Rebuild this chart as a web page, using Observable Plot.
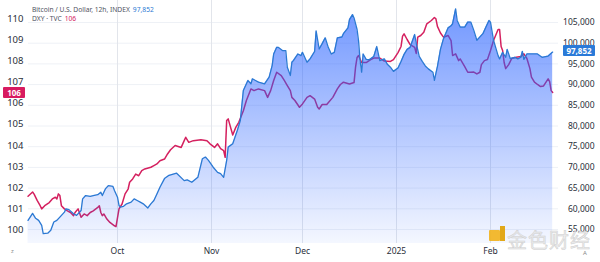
<!DOCTYPE html>
<html><head><meta charset="utf-8">
<script src="https://cdn.jsdelivr.net/npm/d3@7"></script>
<script src="https://cdn.jsdelivr.net/npm/@observablehq/plot@0.6"></script>
<style>
body{margin:0;background:#fff;font-family:"Noto Sans",Roboto,sans-serif;}
#wrap{position:relative;width:600px;height:262px;overflow:hidden;}
#wrap svg{position:absolute;left:0;top:0;}
.legend{position:absolute;left:32px;top:6px;font-size:6.7px;line-height:8.5px;color:#50535e;white-space:nowrap;}
.legend .b{color:#2b79d3;margin-left:3px}
.legend .r{color:#d4205f;margin-left:3px}
.tag{position:absolute;color:#fff;font-weight:bold;font-size:8px;line-height:11px;height:11px;text-align:center;border-radius:1px}
.wm{position:absolute;left:507px;top:225px;font-family:"Noto Sans CJK SC",sans-serif;font-size:20px;color:rgba(232,232,232,0.8);-webkit-text-stroke:0.5px #cfcfcf;letter-spacing:1px}
.logo1{position:absolute;left:489px;top:230px;width:11px;height:11px;background:#f2b31c;border-radius:1px;opacity:0.9}
.logo2{position:absolute;left:500px;top:226px;width:5px;height:15px;background:#e0a000;opacity:0.9}
.mini{position:absolute;font-size:6px;color:#888}
</style></head><body>
<div id="wrap"></div>
<script>
// ---- data ----
const btcDates = ["2024-09-01T12","2024-09-03T00","2024-09-04T00","2024-09-05T00","2024-09-06T00","2024-09-06T12","2024-09-08T00","2024-09-09T00","2024-09-10T00","2024-09-11T00","2024-09-12T00","2024-09-13T12","2024-09-14T00","2024-09-15T00","2024-09-16T12","2024-09-17T12","2024-09-19T00","2024-09-19T12","2024-09-20T12","2024-09-22T00","2024-09-23T00","2024-09-24T12","2024-09-25T12","2024-09-26T00","2024-09-27T00","2024-09-28T00","2024-09-29T12","2024-09-30T00",
"2024-10-01T00","2024-10-01T12","2024-10-02T00","2024-10-03T00","2024-10-04T00","2024-10-05T12","2024-10-06T12","2024-10-07T12","2024-10-08T12","2024-10-09T12","2024-10-11T00","2024-10-12T00","2024-10-13T00","2024-10-14T00","2024-10-15T00","2024-10-16T12","2024-10-18T00","2024-10-20T12","2024-10-23T00","2024-10-24T00","2024-10-25T12","2024-10-27T12","2024-10-29T00","2024-10-30T00","2024-10-31T00",
"2024-11-01T12","2024-11-03T00","2024-11-04T00","2024-11-05T00","2024-11-06T00","2024-11-06T12","2024-11-08T00","2024-11-09T12","2024-11-10T12","2024-11-11T12","2024-11-13T00","2024-11-14T00","2024-11-14T12","2024-11-15T12","2024-11-16T12","2024-11-18T12","2024-11-20T00","2024-11-21T00","2024-11-21T12","2024-11-22T12","2024-11-23T00","2024-11-24T12","2024-11-25T12","2024-11-26T00","2024-11-27T00","2024-11-27T12","2024-11-28T00","2024-11-29T12","2024-11-30T12",
"2024-12-01T00","2024-12-02T00","2024-12-02T12","2024-12-03T12","2024-12-05T00","2024-12-05T12","2024-12-06T12","2024-12-07T12","2024-12-08T12","2024-12-09T12","2024-12-10T12","2024-12-11T12","2024-12-12T12","2024-12-14T00","2024-12-14T12","2024-12-16T00","2024-12-16T12","2024-12-17T12","2024-12-18T00","2024-12-19T00","2024-12-19T12","2024-12-20T00","2024-12-20T12","2024-12-21T00","2024-12-22T00","2024-12-23T00","2024-12-24T12","2024-12-25T12","2024-12-26T12","2024-12-28T00","2024-12-29T00","2024-12-30T00","2024-12-31T00",
"2025-01-01T12","2025-01-02T12","2025-01-03T12","2025-01-04T12","2025-01-05T12","2025-01-07T00","2025-01-07T12","2025-01-08T12","2025-01-09T12","2025-01-10T12","2025-01-11T12","2025-01-13T00","2025-01-13T12","2025-01-14T12","2025-01-15T12","2025-01-16T12","2025-01-18T00","2025-01-19T00","2025-01-19T12","2025-01-20T12","2025-01-21T00","2025-01-22T00","2025-01-23T12","2025-01-24T12","2025-01-25T12","2025-01-26T12","2025-01-27T12","2025-01-28T00","2025-01-29T12","2025-01-30T12","2025-01-31T12",
"2025-02-01T00","2025-02-02T00","2025-02-03T12","2025-02-04T00","2025-02-05T00","2025-02-06T00","2025-02-06T12","2025-02-07T12","2025-02-09T00","2025-02-10T00","2025-02-11T00","2025-02-11T12","2025-02-12T00","2025-02-13T00","2025-02-15T00","2025-02-16T12","2025-02-18T00","2025-02-20T00","2025-02-21T12"];
const btcValues = [57200,58900,57700,57200,56000,54000,54100,54800,56800,57200,58000,59200,60000,59800,58800,58400,59600,62400,63200,63000,63200,63400,64000,63200,64800,65600,65400,64400,
62800,60800,60400,60600,61200,61600,62400,62000,61600,61200,60200,61200,62000,63600,65200,67300,68100,68600,66800,67000,66400,67600,72100,72500,71700,
70100,68800,68500,67600,71700,74900,75700,78900,81300,88600,91000,90200,91400,91000,90600,90200,91800,94600,97400,99000,99000,98200,98200,94200,92200,95400,95800,97400,97000,
97800,96200,95400,96200,98000,103000,98600,99900,101300,99000,97400,97800,101300,101500,102300,103700,105700,106900,106100,103300,100500,95800,93000,97400,96100,96000,96800,99200,95800,96200,94900,94200,93200,
94000,95600,97300,98500,99000,102100,100000,96800,95600,94500,93800,93000,91000,94400,98500,101100,103700,104200,104700,108300,105500,103900,103900,105100,105100,103100,100700,101100,102300,103900,105500,
105100,100700,97000,96200,97800,96600,98500,96300,96600,96200,96600,98000,96100,97400,97400,97400,96600,96900,97852];

const dxyDates = ["2024-09-01T12","2024-09-03T00","2024-09-03T12","2024-09-04T12","2024-09-05T12","2024-09-06T00","2024-09-07T00","2024-09-08T12","2024-09-09T12","2024-09-10T12","2024-09-11T00","2024-09-11T12","2024-09-12T00","2024-09-12T12","2024-09-13T12","2024-09-14T12","2024-09-15T12","2024-09-16T12","2024-09-17T00","2024-09-18T00","2024-09-19T00","2024-09-20T00","2024-09-21T00","2024-09-22T00","2024-09-23T00","2024-09-24T12","2024-09-25T00","2024-09-25T12","2024-09-26T00","2024-09-26T12","2024-09-27T12","2024-09-28T12","2024-09-30T00","2024-09-30T12",
"2024-10-01T12","2024-10-02T12","2024-10-03T12","2024-10-04T12","2024-10-05T00","2024-10-06T00","2024-10-07T00","2024-10-08T00","2024-10-09T00","2024-10-10T00","2024-10-12T00","2024-10-13T00","2024-10-14T00","2024-10-15T00","2024-10-16T12","2024-10-17T12","2024-10-18T12","2024-10-20T00","2024-10-22T00","2024-10-23T00","2024-10-23T12","2024-10-24T12","2024-10-26T00","2024-10-28T12","2024-10-30T12","2024-10-31T12",
"2024-11-02T00","2024-11-03T00","2024-11-04T00","2024-11-05T00","2024-11-05T12","2024-11-06T00","2024-11-06T12","2024-11-08T00","2024-11-09T00","2024-11-10T00","2024-11-11T12","2024-11-12T12","2024-11-14T00","2024-11-15T00","2024-11-16T12","2024-11-18T12","2024-11-19T12","2024-11-20T12","2024-11-21T12","2024-11-22T12","2024-11-24T00","2024-11-25T00","2024-11-26T00","2024-11-27T00","2024-11-27T12","2024-11-28T12","2024-11-30T00",
"2024-12-01T00","2024-12-02T12","2024-12-03T12","2024-12-05T00","2024-12-06T00","2024-12-06T12","2024-12-07T12","2024-12-09T00","2024-12-11T00","2024-12-12T12","2024-12-13T12","2024-12-14T12","2024-12-16T12","2024-12-18T00","2024-12-18T12","2024-12-19T00","2024-12-19T12","2024-12-20T12","2024-12-22T00","2024-12-23T12","2024-12-24T12","2024-12-26T12","2024-12-28T00","2024-12-30T00","2024-12-31T00",
"2025-01-01T12","2025-01-02T12","2025-01-03T00","2025-01-03T12","2025-01-04T12","2025-01-05T12","2025-01-07T00","2025-01-07T12","2025-01-08T00","2025-01-09T00","2025-01-10T00","2025-01-11T00","2025-01-12T12","2025-01-13T12","2025-01-14T00","2025-01-14T12","2025-01-15T12","2025-01-16T12","2025-01-18T00","2025-01-19T00","2025-01-19T12","2025-01-20T12","2025-01-21T12","2025-01-22T00","2025-01-23T12","2025-01-24T12","2025-01-25T12","2025-01-26T12","2025-01-27T12","2025-01-28T12","2025-01-29T00","2025-01-30T00","2025-01-31T00",
"2025-02-01T00","2025-02-02T00","2025-02-03T12","2025-02-04T00","2025-02-04T12","2025-02-05T00","2025-02-05T12","2025-02-06T00","2025-02-07T00","2025-02-08T00","2025-02-09T12","2025-02-11T00","2025-02-12T00","2025-02-13T00","2025-02-14T00","2025-02-14T12","2025-02-15T12","2025-02-16T12","2025-02-17T12","2025-02-18T12","2025-02-20T00","2025-02-20T12","2025-02-21T00","2025-02-21T12"];
const dxyValues = [101.6,101.8,101.7,101.4,101.15,101.0,101.15,101.3,101.47,101.55,101.47,101.71,101.63,101.15,101.0,100.91,100.83,100.68,100.83,101.0,100.6,100.76,100.68,100.83,100.91,101.07,101.15,100.83,100.68,100.76,100.52,100.36,100.2,100.16,
101.0,101.23,101.71,101.94,102.26,102.42,102.65,102.57,102.81,102.89,102.97,103.05,103.13,103.28,103.36,103.6,103.8,104.0,103.91,104.23,104.39,104.15,104.23,104.27,104.23,104.08,
103.91,104.08,103.85,103.76,103.44,105.18,105.26,104.5,104.86,105.1,105.65,106.13,106.68,106.6,106.68,106.6,106.28,106.6,107.08,107.47,107.31,107.08,106.84,106.6,106.28,106.13,105.81,
105.97,106.28,106.36,106.2,105.81,105.73,105.94,105.94,106.28,106.68,106.89,107.0,106.91,106.98,107.71,108.17,108.26,107.93,107.93,108.07,108.14,108.14,108.0,107.98,108.07,
108.4,108.69,109.18,109.29,109.02,108.78,108.65,108.36,109.13,109.21,109.36,109.76,109.92,110.06,110.0,109.64,109.33,109.13,109.21,108.97,108.26,108.34,108.02,108.1,107.74,107.47,107.47,107.48,107.39,107.47,107.83,108.02,108.07,
108.5,108.97,109.49,109.49,108.69,108.5,107.93,107.64,107.83,108.12,108.18,108.21,108.34,108.12,107.64,107.24,107.0,106.89,106.79,106.82,107.16,107.03,106.6,106.51];

const monthTickDates = ["2024-10-01T00","2024-11-01T00","2024-12-01T00","2025-01-01T00","2025-02-01T00"];
const monthTickLabels = ["Oct","Nov","Dec","2025","Feb"];
const btcTicks = [55000,60000,65000,70000,75000,80000,85000,90000,95000,100000,105000];
const dxyTicks = [100,101,102,103,104,105,106,107,108,109,110];
const btcLast = "97,852", dxyLast = "106";

// ---- build ----
const parse = d3.utcParse("%Y-%m-%dT%H");
const btc = btcDates.map((d, i) => ({date: parse(d), value: btcValues[i]}));
const dxy = dxyDates.map((d, i) => ({date: parse(d), value: dxyValues[i]}));
const months = monthTickDates.map(parse);

// pixel geometry of the two vertical axes
const yPx = d3.scaleLinear().domain([55000, 105000]).range([229, 22]);
const dxyPx = d3.scaleLinear().domain([100, 110]).range([229.5, 18.3]);
const dxyToBtc = v => yPx.invert(dxyPx(v));
const btcToDxy = b => dxyPx.invert(yPx(b));
const base = yPx.invert(243);
const topV = yPx.invert(0);

const day = 864e5, oct1 = +parse("2024-10-01T00"), pxPerDay = 373 / 123;
const xDomain = [new Date(oct1 - 117 / pxPerDay * day), new Date(oct1 + 483 / pxPerDay * day)];

const chart = Plot.plot({
  width: 600, height: 262,
  marginLeft: 28, marginRight: 42, marginTop: 0, marginBottom: 19,
  style: {fontFamily: '"Noto Sans", Roboto, sans-serif', fontSize: "9px", color: "#2a2e39", background: "transparent", overflow: "visible"},
  x: {type: "utc", domain: xDomain, range: [0, 600]},
  y: {domain: [55000, 105000], range: [229, 22]},
  marks: [
    Plot.ruleY(btcTicks, {stroke: "#eef1f6", strokeWidth: 1}),
    Plot.ruleX(months, {y1: topV, y2: base, stroke: "#e2e5eb", strokeWidth: 1}),
    Plot.lineY(dxy, {x: "date", y: d => dxyToBtc(d.value), stroke: "#d4205f", strokeWidth: 1.5, curve: "linear"}),
    Plot.areaY(btc, {x: "date", y1: base, y2: "value", fill: "url(#btcGrad)"}),
    Plot.lineY(btc, {x: "date", y: "value", stroke: "#2b79d3", strokeWidth: 1.3}),
    Plot.axisY(btcTicks, {anchor: "right", tickSize: 0, tickPadding: 36, textAnchor: "end", tickFormat: d3.format(","), fontSize: 8.5, label: null}),
    Plot.axisY(dxyTicks.map(dxyToBtc), {anchor: "left", tickSize: 0, tickPadding: 5, tickFormat: d => String(Math.round(btcToDxy(d))), fontSize: 9.5, label: null}),
    Plot.axisX(months, {anchor: "bottom", tickSize: 0, tickPadding: 4, tickFormat: (d, i) => monthTickLabels[i], fontSize: 8.5, label: null})
  ]
});

d3.select(chart).insert("defs", ":first-child").html(
  `<linearGradient id="btcGrad" gradientUnits="userSpaceOnUse" x1="0" y1="8" x2="0" y2="243">
     <stop offset="0" stop-color="#2962ff" stop-opacity="0.66"/>
     <stop offset="0.5" stop-color="#2962ff" stop-opacity="0.36"/>
     <stop offset="1" stop-color="#2962ff" stop-opacity="0.05"/>
   </linearGradient>`);

const wrap = document.getElementById("wrap");
wrap.appendChild(chart);
wrap.insertAdjacentHTML("beforeend", `
  <div class="legend">Bitcoin / U.S. Dollar, 12h, INDEX<span class="b">${btcLast}</span><br>DXY · TVC<span class="r">${dxyLast}</span></div>
  <div class="tag" style="left:3px;top:87px;width:22px;background:#d81b60">${dxyLast}</div>
  <div class="tag" style="left:563px;top:45px;width:32px;background:#2a7ad8">${btcLast}</div>
  <div class="logo1"></div><div class="logo2"></div>
  <div class="wm">金色财经</div>
  <div class="mini" style="left:11px;top:247px">z</div>
  <div class="mini" style="left:583px;top:249px">A</div>
`);
</script>
</body></html>
